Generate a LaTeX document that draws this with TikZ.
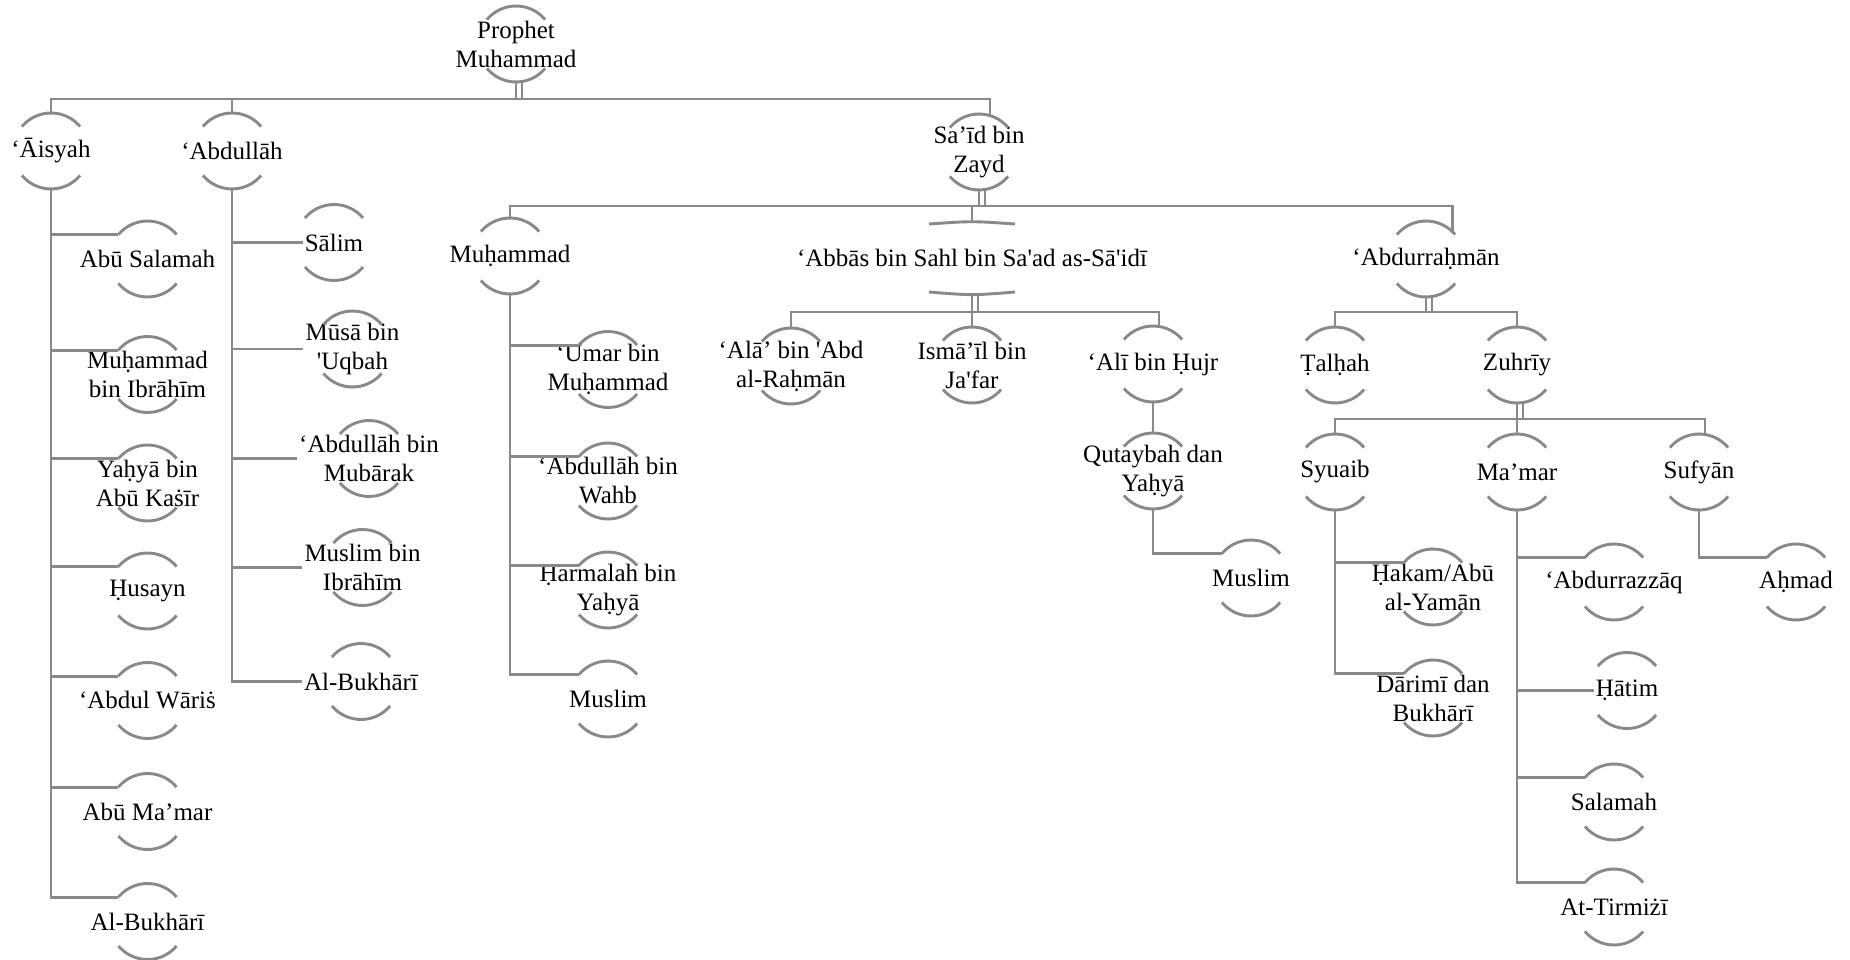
\documentclass[tikz,border=0pt]{standalone}
\usepackage{fontspec}
\newfontfamily\rawifont{Liberation Serif}
\definecolor{linkgray}{HTML}{898989}

\newcommand\ringr{38}
\newcommand\rawi[3]{%
  \node[rawi] (#1) at (#2) {#3};
  \path (#1.center) +(0,\ringr) coordinate (#1-n) +(0,-\ringr) coordinate (#1-s)
    +(140:\ringr) coordinate (#1-nw) +(220:\ringr) coordinate (#1-sw);
  \draw[ring] (#1-nw) arc[start angle=140,end angle=40,radius=\ringr]
    (#1-sw) arc[start angle=220,end angle=320,radius=\ringr];
}

\begin{document}
\begin{tikzpicture}[x=1pt,y=1pt,
    rawi/.style={font=\rawifont\fontsize{25}{29}\selectfont,align=center,inner sep=2pt},
    ring/.style={draw=linkgray,line width=2.9pt},
    link/.style={draw=linkgray,line width=2.9pt}]
\useasboundingbox (0,0) rectangle (1850,-960);

\rawi{prophet}{516,-44}{Prophet\\Muhammad}
\rawi{aisyah}{51,-151}{‘Āisyah}
\rawi{abdullah}{232,-151}{‘Abdullāh}
\rawi{said}{979,-152}{Sa’īd bin\\Zayd}

\rawi{muhammad}{510,-256}{Muḥammad}
\node[rawi] (abbas) at (972,-258) {‘Abbās bin Sahl bin Sa'ad as-Sā'idī};
\path (abbas.center) +(0,36) coordinate (abbas-n) +(0,-36) coordinate (abbas-s);
\draw[ring] ([shift={(-43,34)}]abbas.center) .. controls ([yshift=37pt]abbas.center) .. ([shift={(43,34)}]abbas.center)
  ([shift={(-43,-34)}]abbas.center) .. controls ([yshift=-37.5pt]abbas.center) .. ([shift={(43,-34)}]abbas.center);
\rawi{abdurrahman}{1426,-259}{‘Abdurraḥmān}

\rawi{abusalamah}{147.5,-259}{Abū Salamah}
\rawi{muhibrahim}{147.5,-374.5}{Muḥammad\\bin Ibrāhīm}
\rawi{yahya}{147.5,-483}{Yaḥyā bin\\Abū Kaṡīr}
\rawi{husayn}{147.5,-591}{Ḥusayn}
\rawi{abdulwaris}{147.5,-700.5}{‘Abdul Wāriṡ}
\rawi{abumamar}{147.5,-811.5}{Abū Ma’mar}
\rawi{bukharia}{147.5,-921.5}{Al-Bukhārī}

\rawi{salim}{334,-242.5}{Sālim}
\rawi{musa}{352.5,-349}{Mūsā bin\\'Uqbah}
\rawi{mubarak}{369,-458.5}{‘Abdullāh bin\\Mubārak}
\rawi{muslimibrahim}{362.5,-567.5}{Muslim bin\\Ibrāhīm}
\rawi{bukharib}{361,-681.5}{Al-Bukhārī}

\rawi{umar}{608,-369.5}{‘Umar bin\\Muḥammad}
\rawi{wahb}{608,-481}{‘Abdullāh bin\\Wahb}
\rawi{harmalah}{608,-590}{Ḥarmalah bin\\Yaḥyā}
\rawi{muslima}{608,-699}{Muslim}

\rawi{ala}{791,-366}{‘Alā’ bin 'Abd\\al-Raḥmān}
\rawi{ismail}{972,-365}{Ismā’īl bin\\Ja'far}
\rawi{ali}{1153,-364}{‘Alī bin Ḥujr}
\rawi{qutaybah}{1153,-471}{Qutaybah dan\\Yaḥyā}
\rawi{muslimb}{1251,-578}{Muslim}

\rawi{talhah}{1335,-365}{Ṭalḥah}
\rawi{zuhriy}{1517,-365}{Zuhrīy}
\rawi{syuaib}{1335,-472}{Syuaib}
\rawi{mamar}{1517,-472}{Ma’mar}
\rawi{sufyan}{1699,-472}{Sufyān}
\rawi{hakam}{1433,-587}{Ḥakam/Abū\\al-Yamān}
\rawi{darimi}{1433,-698}{Dārimī dan\\Bukhārī}
\rawi{abdurrazzaq}{1614,-582}{‘Abdurrazzāq}
\rawi{hatim}{1627,-690.5}{Ḥātim}
\rawi{salamah}{1614,-802}{Salamah}
\rawi{tirmizi}{1614,-907}{At-Tirmiżī}
\rawi{ahmad}{1796,-582}{Aḥmad}

\draw[link] (prophet-s) -- ++(0,-17) -| (aisyah-n)
  (prophet-s) ++(0,-17) -| (abdullah-n)
  (prophet-s) ++(0,-17) -| ([shift={(11,-2)}]said-n)
  ([xshift=6pt]prophet-s) -- ++(0,-17);
\draw[link] (said-s) -- ++(0,-16) -| (muhammad-n)
  (said-s) ++(0,-16) -| (abbas-n)
  (said-s) ++(0,-16) -| ([shift={(45:\ringr)}]abdurrahman.center)
  ([xshift=6pt]said-s) -- ++(0,-16);
\draw[link] (abbas-s) -- ++(0,-18) -| (ala-n)
  (abbas-s) ++(0,-18) -| (ismail-n)
  (abbas-s) ++(0,-18) -| ([xshift=6pt]ali-n)
  ([xshift=6pt]abbas-s) -- ++(0,-18);
\draw[link] (abdurrahman-s) -- ++(0,-15) -| (talhah-n)
  (abdurrahman-s) ++(0,-15) -| (zuhriy-n)
  ([xshift=6pt]abdurrahman-s) -- ++(0,-15);
\draw[link] (zuhriy-s) -- ++(0,-16) -| (syuaib-n)
  (zuhriy-s) ++(0,-16) -| (mamar-n)
  (zuhriy-s) ++(0,-16) -| ([xshift=6pt]sufyan-n)
  ([xshift=6pt]zuhriy-s) -- ++(0,-16);

\draw[link] (aisyah-s) |- (abusalamah-nw) (aisyah-s) |- (muhibrahim-nw)
  (aisyah-s) |- (yahya-nw) (aisyah-s) |- (husayn-nw) (aisyah-s) |- (abdulwaris-nw)
  (aisyah-s) |- (abumamar-nw) (aisyah-s) |- (bukharia-nw);
\draw[link] (abdullah-s) |- (salim.west) (abdullah-s) |- (musa.west)
  (abdullah-s) |- (mubarak.west) (abdullah-s) |- (muslimibrahim.west)
  (abdullah-s) |- (bukharib.west);
\draw[link] (muhammad-s) |- (umar-nw) (muhammad-s) |- (wahb-nw)
  (muhammad-s) |- (harmalah-nw) (muhammad-s) |- (muslima-nw);
\draw[link] (ali-s) -- (qutaybah-n) (qutaybah-s) |- (muslimb-nw);
\draw[link] (syuaib-s) |- (hakam-nw) (syuaib-s) |- (darimi-nw);
\draw[link] (mamar-s) |- (abdurrazzaq-nw) (mamar-s) |- (hatim.west)
  (mamar-s) |- (salamah-nw) (mamar-s) |- (tirmizi-nw);
\draw[link] (sufyan-s) |- (ahmad-nw);
\end{tikzpicture}
\end{document}
